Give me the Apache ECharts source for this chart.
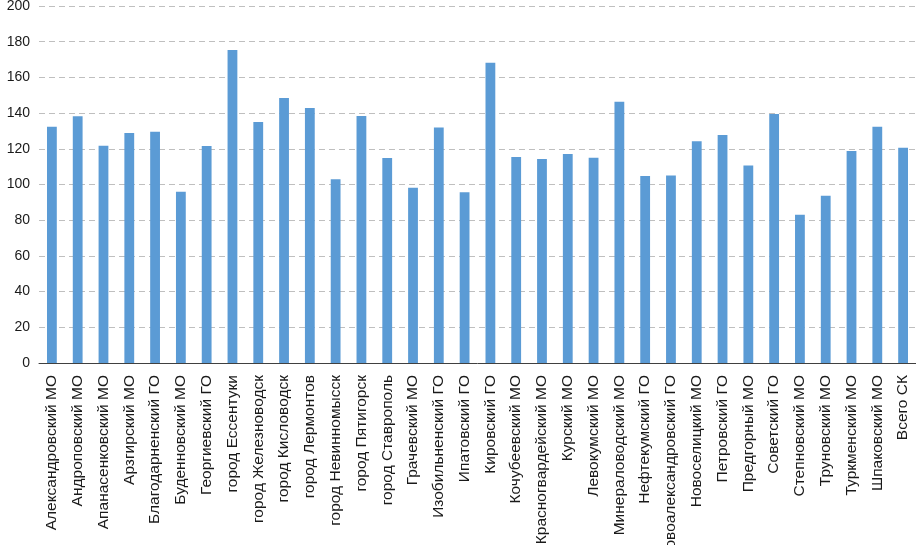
<!DOCTYPE html>
<html>
<head>
<meta charset="utf-8">
<script src="https://cdn.jsdelivr.net/npm/echarts@6/dist/echarts.min.js"></script>
<style>html,body{margin:0;padding:0;background:#fff}#c{width:916px;height:545px}</style>
</head>
<body>
<div id="c"></div>
<script>
var categories = ["Александровский МО","Андроповский МО","Апанасенковский МО","Арзгирский МО","Благодарненский ГО","Буденновский МО","Георгиевский ГО","город Ессентуки","город Железноводск","город Кисловодск","город Лермонтов","город Невинномысск","город Пятигорск","город Ставрополь","Грачевский МО","Изобильненский ГО","Ипатовский ГО","Кировский ГО","Кочубеевский МО","Красногвардейский МО","Курский МО","Левокумский МО","Минераловодский МО","Нефтекумский ГО","Новоалександровский ГО","Новоселицкий МО","Петровский ГО","Предгорный МО","Советский ГО","Степновский МО","Труновский МО","Туркменский МО","Шпаковский МО","Всего СК"];
var values = [132.4,138.2,121.7,128.9,129.6,96,121.6,175.4,135,148.5,142.9,102.9,138.4,114.8,98.2,132,95.6,168.2,115.4,114.3,117.1,115,146.4,104.8,105.1,124.2,127.7,110.7,139.5,83.1,93.7,118.8,132.4,120.6];
var yTicks = {min:0,max:200,interval:20};

var chart = echarts.init(document.getElementById('c'));
chart.setOption({
  animation:false,
  grid:{left:39,right:0,top:6,bottom:182,containLabel:false,outerBoundsMode:'none'},
  xAxis:{type:'category',data:categories,
    axisLine:{lineStyle:{color:'#404040',width:1}},
    axisTick:{show:false},
    axisLabel:{rotate:90,interval:0,margin:12,color:'#1a1a1a',fontSize:15.5,fontFamily:'Liberation Sans'}},
  yAxis:{type:'value',min:yTicks.min,max:yTicks.max,interval:yTicks.interval,
    axisLine:{show:false},axisTick:{show:false},
    axisLabel:{color:'#1a1a1a',fontSize:14,fontFamily:'Liberation Sans',margin:9},
    splitLine:{lineStyle:{color:'#bfbfbf',type:[6,4],width:1}}},
  series:[{type:'bar',data:values,barWidth:'38%',itemStyle:{color:'#5B9BD5'}}]
});
</script>
</body>
</html>
